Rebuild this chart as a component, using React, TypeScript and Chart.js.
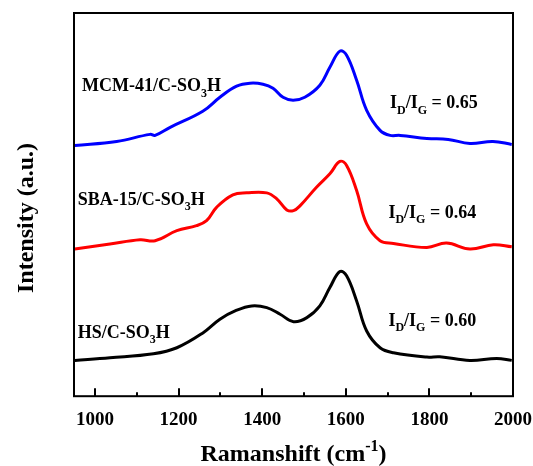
import React, { useEffect, useRef } from "react";
import { Chart, registerables } from "chart.js";
Chart.register(...registerables);

// Tick labels
const xTicks = [1000, 1200, 1400, 1600, 1800, 2000];
const minorTicks = [1100, 1300, 1500, 1700, 1900];

// MCM-41/C-SO3H (blue)
const mcmX = [952, 1052, 1132, 1144, 1180, 1258, 1299, 1339, 1371, 1402, 1426, 1450, 1474, 1502, 1538, 1562, 1586, 1602, 1626, 1650, 1682, 1706, 1730, 1794, 1845, 1897, 1952, 1997];
const mcmY = [250, 254, 261, 260, 268, 284, 298, 309, 312, 311, 307, 298, 295, 298, 310, 328, 344, 340, 315, 285, 265, 260, 260, 257, 256, 252, 254, 251];

// SBA-15/C-SO3H (red)
const sbaX = [952, 1036, 1108, 1144, 1196, 1243, 1267, 1291, 1330, 1363, 1411, 1435, 1459, 1475, 1491, 1530, 1562, 1586, 1602, 1626, 1650, 1682, 1714, 1794, 1841, 1897, 1953, 1997];
const sbaY = [146.7, 151.7, 156, 155, 165, 170, 175, 188.3, 200.7, 202.7, 202.7, 196.7, 185.7, 185, 190, 208.3, 221.7, 234, 230, 205, 171.7, 155, 152.3, 148.3, 152.7, 146.7, 151, 149];

// HS/C-SO3H (black)
const hsX = [952, 1036, 1140, 1196, 1259, 1299, 1339, 1375, 1411, 1443, 1475, 1507, 1538, 1562, 1586, 1602, 1626, 1650, 1682, 1714, 1794, 1825, 1897, 1961, 1997];
const hsY = [35.7, 38.3, 42.3, 48.3, 63.3, 76.7, 85.7, 90, 88.3, 81.7, 74.3, 78.3, 90, 108.3, 124.3, 120, 95, 65, 48.3, 43.3, 39, 39.3, 35.7, 37.7, 35.7];

const sampleNames = ["MCM-41/C-SO", "SBA-15/C-SO", "HS/C-SO"];
const ratios = ["0.65", "0.64", "0.60"];
const colors = ["#0000ff", "#ff0000", "#000000"];

// label anchors (data coords): [nameX, nameY, ratioX, ratioY]
const labelAnchors = [
  [969, 304, 1706, 287],
  [959, 191, 1702, 178],
  [959, 58, 1702, 70],
];

const FONT = '"Liberation Serif", "Times New Roman", serif';

type Part = { t: string; sub?: boolean; sup?: boolean };

function drawRich(ctx: CanvasRenderingContext2D, parts: Part[], x: number, y: number, size: number, align: "left" | "center" = "left") {
  const subSize = Math.round(size * 0.65);
  const widths = parts.map((p) => {
    ctx.font = `bold ${p.sub || p.sup ? subSize : size}px ${FONT}`;
    return ctx.measureText(p.t).width;
  });
  const total = widths.reduce((a, b) => a + b, 0);
  let cx = align === "center" ? x - total / 2 : x;
  parts.forEach((p, i) => {
    ctx.font = `bold ${p.sub || p.sup ? subSize : size}px ${FONT}`;
    let dy = 0;
    if (p.sub) dy = size * 0.3;
    if (p.sup) dy = -size * 0.4;
    ctx.fillText(p.t, cx, y + dy);
    cx += widths[i];
  });
}

const decorPlugin = {
  id: "decor",
  afterDraw(chart: any) {
    const { ctx, chartArea, scales } = chart;
    const xs = scales.x;
    const ys = scales.y;
    ctx.save();
    ctx.strokeStyle = "#000";
    ctx.lineWidth = 2;
    ctx.strokeRect(chartArea.left, chartArea.top, chartArea.right - chartArea.left, chartArea.bottom - chartArea.top);
    ctx.beginPath();
    xTicks.forEach((v) => {
      const px = Math.round(xs.getPixelForValue(v));
      ctx.moveTo(px, chartArea.bottom);
      ctx.lineTo(px, chartArea.bottom - 8);
    });
    minorTicks.forEach((v) => {
      const px = Math.round(xs.getPixelForValue(v));
      ctx.moveTo(px, chartArea.bottom);
      ctx.lineTo(px, chartArea.bottom - 4);
    });
    ctx.stroke();

    ctx.fillStyle = "#000";
    ctx.textBaseline = "alphabetic";
    labelAnchors.forEach((a, i) => {
      drawRich(ctx, [{ t: sampleNames[i] }, { t: "3", sub: true }, { t: "H" }], xs.getPixelForValue(a[0]), ys.getPixelForValue(a[1]), 18);
      drawRich(
        ctx,
        [{ t: "I" }, { t: "D", sub: true }, { t: "/I" }, { t: "G", sub: true }, { t: " = " + ratios[i] }],
        xs.getPixelForValue(a[2]),
        ys.getPixelForValue(a[3]),
        18
      );
    });

    // x title
    drawRich(ctx, [{ t: "Ramanshift (cm" }, { t: "-1", sup: true }, { t: ")" }], (chartArea.left + chartArea.right) / 2, 461, 24, "center");
    // y title
    ctx.translate(33, 218);
    ctx.rotate(-Math.PI / 2);
    drawRich(ctx, [{ t: "Intensity (a.u.)" }], 0, 0, 24, "center");
    ctx.restore();
  },
};

export default function App() {
  const ref = useRef<HTMLCanvasElement>(null);
  useEffect(() => {
    document.body.style.margin = "0";
    const mk = (xa: number[], ya: number[]) => xa.map((x, i) => ({ x, y: ya[i] }));
    const chart = new Chart(ref.current!, {
      type: "line",
      data: {
        datasets: [
          { data: mk(mcmX, mcmY), borderColor: colors[0] },
          { data: mk(sbaX, sbaY), borderColor: colors[1] },
          { data: mk(hsX, hsY), borderColor: colors[2] },
        ].map((d) => ({ ...d, borderWidth: 3, pointRadius: 0, fill: false, tension: 0.4 })),
      },
      options: {
        animation: false,
        responsive: false,
        devicePixelRatio: 1,
        layout: { padding: { left: 74, top: 13, right: 20, bottom: 23 } },
        plugins: { legend: { display: false }, tooltip: { enabled: false } },
        scales: {
          x: {
            type: "linear",
            min: 950,
            max: 2000,
            afterBuildTicks: (s: any) => {
              s.ticks = xTicks.map((v) => ({ value: v }));
            },
            afterFit: (s: any) => {
              s.paddingRight = 0;
              s.paddingLeft = 0;
            },
            grid: { display: false, drawTicks: false },
            border: { display: false },
            ticks: {
              font: { family: FONT, weight: "bold", size: 19 },
              color: "#000",
              padding: 12,
              maxRotation: 0,
              autoSkip: false,
              callback: (v: any) => String(v),
            },
          },
          y: { display: false, min: 0, max: 382 },
        },
      },
      plugins: [decorPlugin],
    });
    return () => chart.destroy();
  }, []);
  return (
    <div style={{ position: "absolute", left: 0, top: 0, width: 533, height: 466, background: "#fff" }}>
      <canvas ref={ref} width={533} height={466} />
    </div>
  );
}
